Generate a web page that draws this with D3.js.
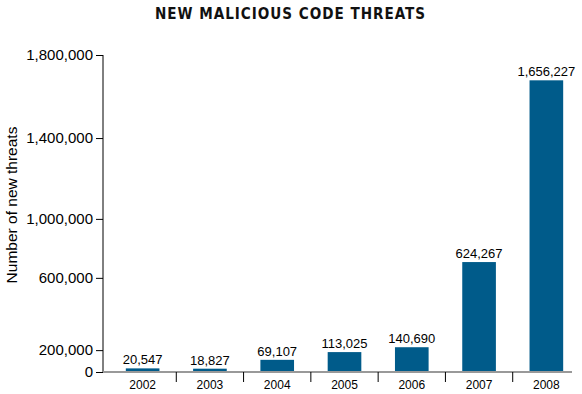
<!DOCTYPE html>
<html><head><meta charset="utf-8">
<script src="https://cdn.jsdelivr.net/npm/d3@7"></script>
<style>body{margin:0;background:#fff}svg{display:block}</style>
</head><body>
<svg id="c" width="582" height="394"></svg>
<script>
const years = ["2002","2003","2004","2005","2006","2007","2008"];
const threats = [20547, 18827, 69107, 113025, 140690, 624267, 1656227];
const yTicks = [0, 200000, 600000, 1000000, 1400000, 1800000];
// relative position of each tick label along the axis as drawn in the source
const yTickFrac = [0, 0.069, 0.297, 0.483, 0.738, 1];

(function () {
const svg = d3.select("#c");
const plotTop = 55, plotBottom = 372, plotLeft = 103, plotRight = 572;
const fmt = d3.format(",");
const font = "Arial,'Liberation Sans',sans-serif";

const x = d3.scaleBand().domain(years).range([109, 580]).paddingInner(0.5).paddingOuter(0.25);
const y = d3.scaleLinear().domain([0, 1800000]).range([plotBottom, plotTop]);
const yAxisScale = d3.scaleLinear().domain(yTicks).range(yTickFrac.map(f => plotBottom - f * (plotBottom - plotTop)));

svg.append("text").attr("x", 155).attr("y", 18.5)
  .attr("textLength", 271).attr("lengthAdjust", "spacingAndGlyphs")
  .style("font-family", "'DejaVu Sans Condensed','DejaVu Sans'").style("font-weight", "bold")
  .style("font-size", "15.5px").style("letter-spacing", "1px").attr("fill", "#111")
  .text("NEW MALICIOUS CODE THREATS");

svg.append("text").attr("transform", `translate(17,205) rotate(-90)`).attr("text-anchor", "middle")
  .style("font-family", font).style("font-size", "15.5px").attr("fill", "#000")
  .text("Number of new threats");

// bars
svg.selectAll("rect.bar").data(years).join("rect").attr("class", "bar")
  .attr("x", d => x(d)).attr("width", x.bandwidth())
  .attr("y", (d, i) => y(threats[i])).attr("height", (d, i) => plotBottom - y(threats[i]))
  .attr("fill", "#005b8a");

svg.selectAll("text.val").data(years).join("text").attr("class", "val")
  .attr("x", d => x(d) + x.bandwidth() / 2).attr("y", (d, i) => y(threats[i]) - 4)
  .attr("text-anchor", "middle").style("font-family", font)
  .style("font-size", "13px").attr("fill", "#000").text((d, i) => fmt(threats[i]));

// y axis
const yAxis = d3.axisLeft(yAxisScale).tickValues(yTicks).tickFormat(fmt).tickSize(7).tickPadding(3);
const gy = svg.append("g").attr("transform", `translate(${plotLeft},0)`).call(yAxis);
gy.select(".domain").attr("d", `M0,${plotTop}V${plotBottom}`).attr("stroke", "#000");
gy.selectAll(".tick line").attr("stroke", "#000");
gy.selectAll(".tick text").style("font-family", font).style("font-size", "15px").attr("fill", "#000");

// x axis
svg.append("line").attr("x1", plotLeft).attr("x2", plotRight).attr("y1", plotBottom).attr("y2", plotBottom)
  .attr("stroke", "#999").attr("stroke-width", 2);
const gap = (x.step() - x.bandwidth()) / 2;
svg.selectAll("line.xt").data(years.slice(1)).join("line").attr("class", "xt")
  .attr("x1", d => x(d) - gap).attr("x2", d => x(d) - gap)
  .attr("y1", plotBottom).attr("y2", plotBottom + 10).attr("stroke", "#000");
svg.selectAll("text.yr").data(years).join("text").attr("class", "yr")
  .attr("x", d => x(d) + x.bandwidth() / 2).attr("y", plotBottom + 17).attr("text-anchor", "middle")
  .style("font-family", font).style("font-size", "12px").attr("fill", "#000")
  .text(d => d);
})();
</script>
</body></html>
